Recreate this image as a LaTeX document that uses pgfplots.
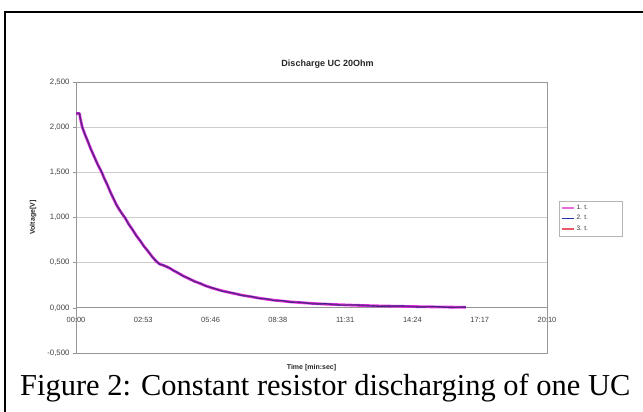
\documentclass[border=0pt]{standalone}
\usepackage{fontspec}
\setmainfont{Liberation Sans}
\newfontfamily\capfont{Liberation Serif}
\usepackage{pgfplots}
\pgfplotsset{compat=1.18}
\usepackage{pgfplotstable}

\definecolor{sone}{RGB}{235,50,235}
\definecolor{stwo}{RGB}{45,30,140}
\definecolor{sthree}{RGB}{235,60,110}
\definecolor{lone}{RGB}{225,110,225}
\definecolor{ltwo}{RGB}{40,50,170}
\definecolor{lthree}{RGB}{230,90,100}
\definecolor{gridc}{RGB}{205,205,205}
\definecolor{boxc}{RGB}{150,150,150}

% time [s], voltage [V]
\pgfplotstableread{
t v
0 2.150
9 2.150
11 2.100
16 2.000
23 1.920
30 1.845
38 1.760
45 1.690
55 1.595
66 1.500
73 1.430
80 1.365
88 1.285
96 1.210
103 1.150
110 1.095
118 1.045
126 0.995
135 0.930
145 0.865
155 0.800
165 0.740
175 0.680
185 0.625
196 0.565
207 0.510
215 0.485
224 0.470
232 0.458
240 0.440
250 0.415
260 0.390
275 0.355
290 0.322
305 0.293
318 0.270
334 0.243
350 0.218
376 0.188
404 0.160
427 0.140
450 0.122
470 0.108
490 0.095
510 0.084
530 0.075
552 0.066
575 0.058
610 0.048
644 0.040
680 0.034
720 0.028
780 0.021
840 0.016
880 0.013
920 0.010
960 0.008
1001 0.006
}\dataA
\pgfplotstableread{
t v
0 2.152
9 2.152
11 2.098
16 2.003
23 1.918
30 1.848
38 1.757
45 1.692
55 1.592
66 1.503
73 1.427
80 1.368
88 1.282
96 1.213
103 1.147
110 1.098
118 1.042
126 0.998
135 0.927
145 0.868
155 0.797
165 0.743
175 0.677
185 0.628
196 0.562
207 0.513
215 0.482
224 0.473
232 0.455
240 0.443
250 0.412
260 0.393
275 0.352
290 0.325
305 0.290
318 0.273
334 0.240
350 0.221
376 0.185
404 0.163
427 0.137
450 0.125
470 0.105
490 0.098
510 0.081
530 0.078
552 0.063
575 0.061
610 0.045
644 0.043
680 0.031
720 0.031
780 0.018
840 0.019
880 0.010
920 0.013
960 0.005
1001 0.008
}\dataB
\pgfplotstableread{
t v
0 2.148
9 2.148
11 2.102
16 1.997
23 1.922
30 1.842
38 1.763
45 1.688
55 1.598
66 1.497
73 1.433
80 1.362
88 1.288
96 1.207
103 1.153
110 1.092
118 1.048
126 0.992
135 0.933
145 0.862
155 0.803
165 0.737
175 0.683
185 0.622
196 0.568
207 0.507
215 0.488
224 0.467
232 0.461
240 0.437
250 0.418
260 0.387
275 0.358
290 0.319
305 0.296
318 0.267
334 0.246
350 0.215
376 0.191
404 0.157
427 0.143
450 0.119
470 0.111
490 0.092
510 0.087
530 0.072
552 0.069
575 0.055
610 0.051
644 0.037
680 0.037
720 0.025
780 0.024
840 0.013
880 0.016
920 0.007
960 0.011
1001 0.004
}\dataC

\begin{document}
\begin{tikzpicture}[x=1pt,y=1pt]
\path[use as bounding box] (0,0) rectangle (643,412);
\draw[line width=2.5pt] (5,-20) -- (5,400) -- (670,400);
\begin{axis}[
  at={(76pt,59pt)}, anchor=south west,
  scale only axis, width=471pt, height=271pt,
  xmin=0, xmax=1209.6, ymin=-0.5, ymax=2.5,
  axis line style={boxc, line width=0.8pt},
  tick pos=left, tick align=outside,
  major tick length=3pt,
  tick style={boxc, line width=0.6pt},
  xtick={0,172.8,345.6,518.4,691.2,864,1036.8,1209.6},
  xticklabels={00:00,02:53,05:46,08:38,11:31,14:24,17:17,20:10},
  xtick style={draw=none},
  xticklabel style={yshift=42pt, font=\fontsize{7.5}{8}\selectfont, text=black!75},
  ytick={-0.5,0,0.5,1,1.5,2,2.5},
  yticklabels={{-0,500},{0,000},{0,500},{1,000},{1,500},{2,000},{2,500}},
  yticklabel style={font=\fontsize{7.8}{8}\selectfont, text=black!75},
  ymajorgrids, grid style={gridc, line width=0.7pt},
  extra y ticks={0}, extra y tick labels={},
  extra y tick style={grid style={boxc, line width=0.7pt}, major tick length=0pt},
  title={Discharge UC 20Ohm},
  title style={at={(axis description cs:0.534,1)}, anchor=center, yshift=12pt, font=\bfseries\fontsize{9}{10}\selectfont, text=black!85},
  xlabel={Time [min:sec]},
  xlabel style={at={(axis description cs:0.5,-0.055)}, anchor=center, font=\bfseries\fontsize{7}{8}\selectfont, text=black!85},
  ylabel={Voltage[V]},
  ylabel style={at={(axis description cs:-0.091,0.5)}, anchor=center, font=\bfseries\fontsize{7}{8}\selectfont, text=black!85},
  legend style={at={(axis description cs:1.0255,0.561)}, anchor=north west, draw=boxc!70, font=\fontsize{6.5}{7}\selectfont, inner sep=1.5pt, row sep=0.8pt, text=black!80},
  legend cell align=left,
]
\addplot[sone, line width=2.8pt, line join=round,
  legend image code/.code={\draw[lone, line width=1.8pt] (0pt,0pt) -- (12pt,0pt);}] table[x=t,y=v] {\dataA};
\addlegendentry{\makebox[42pt][l]{1. t.}}
\addplot[stwo, line width=1.4pt, line join=round,
  legend image code/.code={\draw[ltwo, line width=1.8pt] (0pt,0pt) -- (12pt,0pt);}] table[x=t,y=v] {\dataB};
\addlegendentry{\makebox[42pt][l]{2. t.}}
\addplot[sthree, line width=1.2pt, opacity=0.3, line join=round,
  legend image code/.code={\draw[lthree, line width=1.8pt, opacity=1] (0pt,0pt) -- (12pt,0pt);}] table[x=t,y=v] {\dataC};
\addlegendentry{\makebox[42pt][l]{3. t.}}
\end{axis}
\node[anchor=base west, inner sep=0pt] at (20,16) {\resizebox{610pt}{!}{\capfont Figure 2: Constant resistor discharging of one UC}};
\end{tikzpicture}
\end{document}
